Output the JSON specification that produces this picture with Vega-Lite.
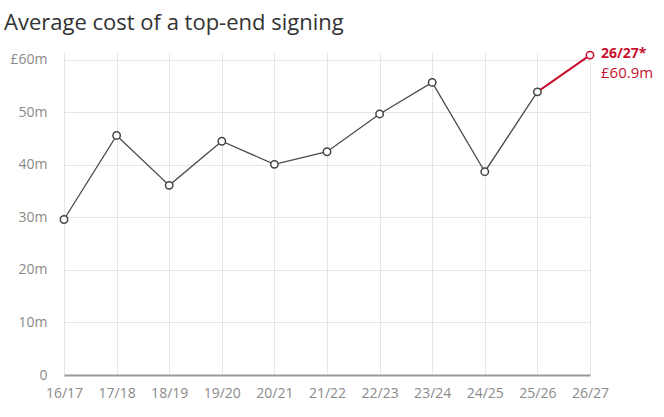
{
  "$schema": "https://vega.github.io/schema/vega-lite/v6.json",
  "autosize": "none",
  "width": 551,
  "height": 322,
  "padding": {"left": 54, "top": 53, "right": 59, "bottom": 42},
  "background": "white",
  "title": {
    "text": "Average cost of a top-end signing",
    "anchor": "start",
    "frame": "group",
    "dx": -50,
    "offset": 12,
    "font": "Open Sans",
    "fontSize": 22,
    "fontWeight": "normal",
    "color": "#333333"
  },
  "data": {
    "values": [
      {"season": "16/17", "value": 29.6, "status": "actual"},
      {"season": "17/18", "value": 45.6, "status": "actual"},
      {"season": "18/19", "value": 36.1, "status": "actual"},
      {"season": "19/20", "value": 44.5, "status": "actual"},
      {"season": "20/21", "value": 40.1, "status": "actual"},
      {"season": "21/22", "value": 42.5, "status": "actual"},
      {"season": "22/23", "value": 49.7, "status": "actual"},
      {"season": "23/24", "value": 55.7, "status": "actual"},
      {"season": "24/25", "value": 38.7, "status": "actual"},
      {"season": "25/26", "value": 53.9, "status": "actual"},
      {"season": "26/27", "value": 60.9, "status": "forecast"}
    ]
  },
  "config": {
    "view": {"stroke": null},
    "font": "Open Sans"
  },
  "encoding": {
    "x": {
      "field": "season",
      "type": "ordinal",
      "scale": {"type": "point", "range": [10, 536], "padding": 0},
      "axis": {
        "title": null,
        "labelAngle": 0,
        "labelFont": "Open Sans",
        "labelFontSize": 14,
        "labelColor": "#8a8a8a",
        "labelPadding": 11,
        "ticks": false,
        "grid": true,
        "gridColor": "#e6e6e6",
        "domainColor": "#999999",
        "domainWidth": 2
      }
    },
    "y": {
      "field": "value",
      "type": "quantitative",
      "scale": {"domain": [0, 61.3], "nice": false},
      "axis": {
        "title": null,
        "values": [0, 10, 20, 30, 40, 50, 60],
        "labelExpr": "datum.value == 0 ? '0' : datum.value == 60 ? '£60m' : datum.value + 'm'",
        "labelFont": "Open Sans",
        "labelFontSize": 14,
        "labelColor": "#8a8a8a",
        "labelPadding": 7,
        "ticks": false,
        "domain": false,
        "grid": true,
        "gridColor": "#e6e6e6"
      }
    }
  },
  "layer": [
    {
      "transform": [{"filter": "datum.status == 'actual'"}],
      "mark": {"type": "line", "color": "#4a4a4a", "strokeWidth": 1.3},
      "encoding": {}
    },
    {
      "transform": [{"filter": "datum.season == '25/26' || datum.status == 'forecast'"}],
      "mark": {"type": "line", "color": "#c8102e", "strokeWidth": 2},
      "encoding": {}
    },
    {
      "mark": {"type": "point", "filled": false, "fill": "white", "size": 55, "strokeWidth": 1.5, "opacity": 1},
      "encoding": {
        "stroke": {
          "field": "status",
          "type": "nominal",
          "scale": {"domain": ["actual", "forecast"], "range": ["#444444", "#c8102e"]},
          "legend": null
        }
      }
    },
    {
      "transform": [{"filter": "datum.status == 'forecast'"}],
      "mark": {"type": "text", "align": "left", "baseline": "middle", "dx": 11, "dy": -1, "fontSize": 14, "fontWeight": "bold", "color": "#c8102e"},
      "encoding": {"text": {"value": "26/27*"}}
    },
    {
      "transform": [{"filter": "datum.status == 'forecast'"}],
      "mark": {"type": "text", "align": "left", "baseline": "middle", "dx": 11, "dy": 18, "fontSize": 15, "color": "#c8102e"},
      "encoding": {"text": {"value": "£60.9m"}}
    }
  ]
}
